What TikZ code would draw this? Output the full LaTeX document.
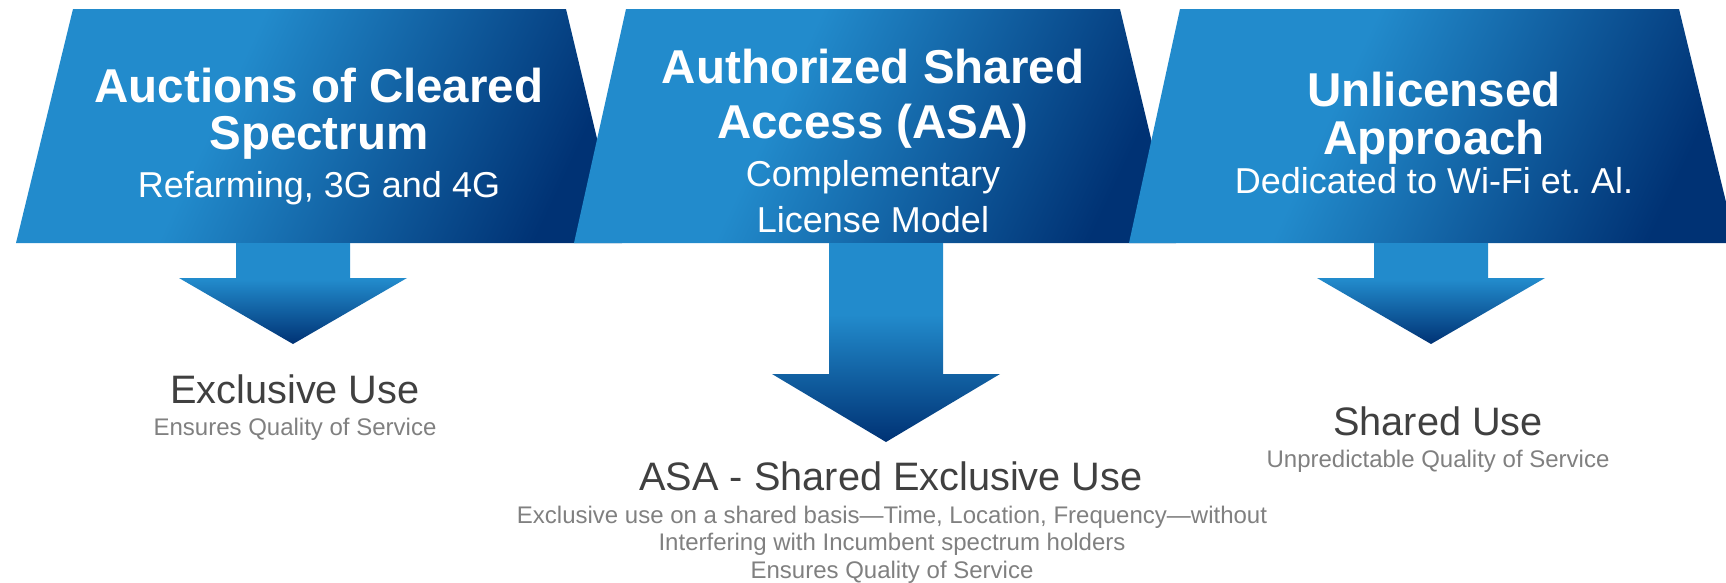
\documentclass[tikz,border=0pt]{standalone}
\usepackage{fontspec}
\setmainfont{Liberation Sans}
\frenchspacing

\definecolor{asalight}{RGB}{34,139,204}
\definecolor{asadark}{RGB}{0,50,116}
\definecolor{asagrey}{RGB}{64,64,64}
\definecolor{asanote}{RGB}{128,128,128}

\pgfdeclarehorizontalshading{bannershade}{100bp}{color(0bp)=(asalight); color(40bp)=(asalight); color(75bp)=(asadark); color(100bp)=(asadark)}
\pgfdeclareverticalshading{arrowshade}{100bp}{color(0bp)=(asadark); color(25bp)=(asadark); color(57bp)=(asalight); color(100bp)=(asalight)}

% down arrow: centre x, y of the head base, y of the tip
\newcommand{\dnarrow}[3]{\shade[arrowbody] (#1-57,243) -- (#1+57,243) -- (#1+57,#2) -- (#1+114,#2) -- (#1,#3) -- (#1-114,#2) -- (#1-57,#2) -- cycle;}

\begin{document}
\begin{tikzpicture}[x=1pt,y=-1pt,
	banner/.style={shading=bannershade,shading angle=-25},
	arrowbody/.style={shading=arrowshade},
	bannertitle/.style={anchor=base,inner sep=0,text=white,font=\fontsize{47.5}{50}\selectfont\bfseries},
	bannersub/.style={anchor=base,inner sep=0,text=white,font=\fontsize{36}{40}\selectfont},
	usetitle/.style={anchor=base,inner sep=0,text=asagrey,font=\fontsize{39.7}{44}\selectfont},
	usenote/.style={anchor=base,inner sep=0,text=asanote,font=\fontsize{24}{27}\selectfont}]
	\useasboundingbox (0,0) rectangle (1726,582);
	
	% the three banners, each one over the last
	\shade[banner] (73,9) -- (566,9) -- (622,243) -- (16,243) -- cycle;
	\shade[banner] (626,9) -- (1120,9) -- (1176,243) -- (574,243) -- cycle;
	\shade[banner] (1180,9) -- (1679,9) -- (1736,243) -- (1129,243) -- cycle;
	
	\dnarrow{293}{278}{344}
	\dnarrow{886}{374}{442}
	\dnarrow{1431}{278}{344}
	
	\node[bannertitle] (auc1) at (319,102) {Auctions of Cleared};
	\node[bannertitle] (auc2) at (319,149) {Spectrum};
	\node[bannersub] (auc3) at (319,197) {Refarming, 3G and 4G};
	
	\node[bannertitle] (asa1) at (873,83) {Authorized Shared};
	\node[bannertitle] (asa2) at (873,138) {Access (ASA)};
	\node[bannersub] (asa3) at (873,186) {Complementary};
	\node[bannersub] (asa4) at (873,232) {License Model};
	
	\node[bannertitle] (unl1) at (1434,106) {Unlicensed};
	\node[bannertitle] (unl2) at (1434,154) {Approach};
	\node[bannersub] (unl3) at (1434,193) {Dedicated to Wi-Fi et. Al.};
	
	\node[usetitle] (excl) at (295,403) {Exclusive Use};
	\node[usenote] (exclnote) at (295,435) {Ensures Quality of Service};
	
	\node[usetitle] (asause) at (891,490) {ASA - Shared Exclusive Use};
	\node[usenote] (asanote1) at (892,523) {Exclusive use on a shared basis---Time, Location, Frequency---without};
	\node[usenote] (asanote2) at (892,550) {Interfering with Incumbent spectrum holders};
	\node[usenote] (asanote3) at (892,578) {Ensures Quality of Service};
	
	\node[usetitle] (shuse) at (1438,435) {Shared Use};
	\node[usenote] (shnote) at (1438,467) {Unpredictable Quality of Service};
\end{tikzpicture}
\end{document}
